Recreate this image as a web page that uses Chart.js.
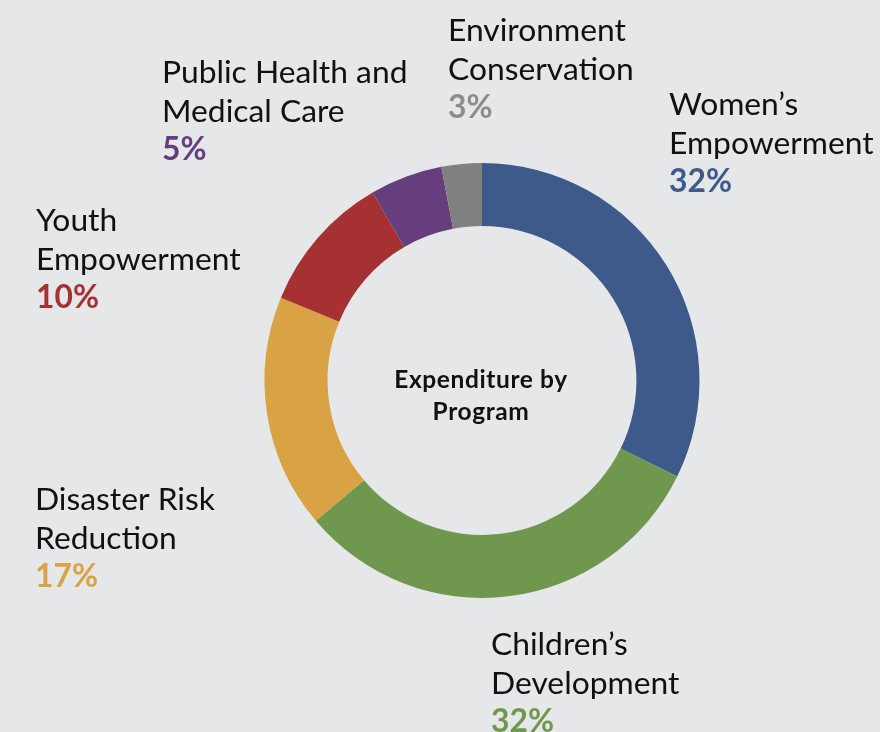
<!DOCTYPE html>
<html>
<head>
<meta charset="utf-8">
<script src="https://cdn.jsdelivr.net/npm/chart.js@4"></script>
<style>
  html, body { margin: 0; padding: 0; background: #e6e7e9; }
  #wrap { width: 880px; height: 732px; position: relative; }
</style>
</head>
<body>
<div id="wrap"><canvas id="program-chart" width="880" height="732"></canvas></div>
<script>
// Programs, clockwise from 12 o'clock
const programs = [
  ["Women\u2019s", "Empowerment"],
  ["Children\u2019s", "Development"],
  ["Disaster Risk", "Reduction"],
  ["Youth", "Empowerment"],
  ["Public Health and", "Medical Care"],
  ["Environment", "Conservation"]
];
// share of expenditure (%)
const shares = [32.3, 31.6, 17.4, 10.4, 5.4, 3.0];
const percentLabels = ["32%", "32%", "17%", "10%", "5%", "3%"];

const sliceColors = ['#3e5a8b', '#70974e', '#d9a245', '#a63132', '#673e7d', '#808080'];
const textColors = ['#3e5a8b', '#70974e', '#d9a245', '#a63132', '#673e7d', '#8c8c8c'];

// where each label block starts (left x, first baseline y)
const labelPos = [
  [669, 115], [491, 655], [35, 510], [36, 231], [162, 83], [448, 41]
];

const centerText = {
  id: 'centerText',
  afterDraw(chart) {
    const ctx = chart.ctx;
    const meta = chart.getDatasetMeta(0).data[0];
    ctx.save();
    ctx.fillStyle = '#111';
    ctx.font = 'bold 24.5px Lato';
    ctx.letterSpacing = '0.6px';
    ctx.textAlign = 'center';
    ctx.fillText('Expenditure by', meta.x - 1, 388);
    ctx.fillText('Program', meta.x - 1, 420);
    ctx.restore();
  }
};

const outerLabels = {
  id: 'outerLabels',
  afterDraw(chart) {
    const ctx = chart.ctx;
    ctx.save();
    ctx.textAlign = 'left';
    programs.forEach((lines, i) => {
      const [x, y] = labelPos[i];
      ctx.fillStyle = '#111';
      ctx.font = '31.8px Lato';
      lines.forEach((line, j) => ctx.fillText(line, x, y + j * 38.5));
      ctx.fillStyle = textColors[i];
      ctx.font = 'bold 31.8px Lato';
      ctx.fillText(percentLabels[i], x, y + lines.length * 38.5);
    });
    ctx.restore();
  }
};

const ctx = document.getElementById("program-chart").getContext("2d");
new Chart(ctx, {
  type: 'doughnut',
  data: {
    labels: programs.map(p => p.join(' ')),
    datasets: [{
      data: shares,
      backgroundColor: sliceColors,
      borderWidth: 0
    }]
  },
  options: {
    responsive: false,
    animation: false,
    cutout: '71%',
    layout: { padding: { top: 163, bottom: 134, left: 100, right: 16 } },
    plugins: {
      legend: { display: false },
      tooltip: { enabled: false }
    }
  },
  plugins: [centerText, outerLabels]
});
</script>
</body>
</html>
